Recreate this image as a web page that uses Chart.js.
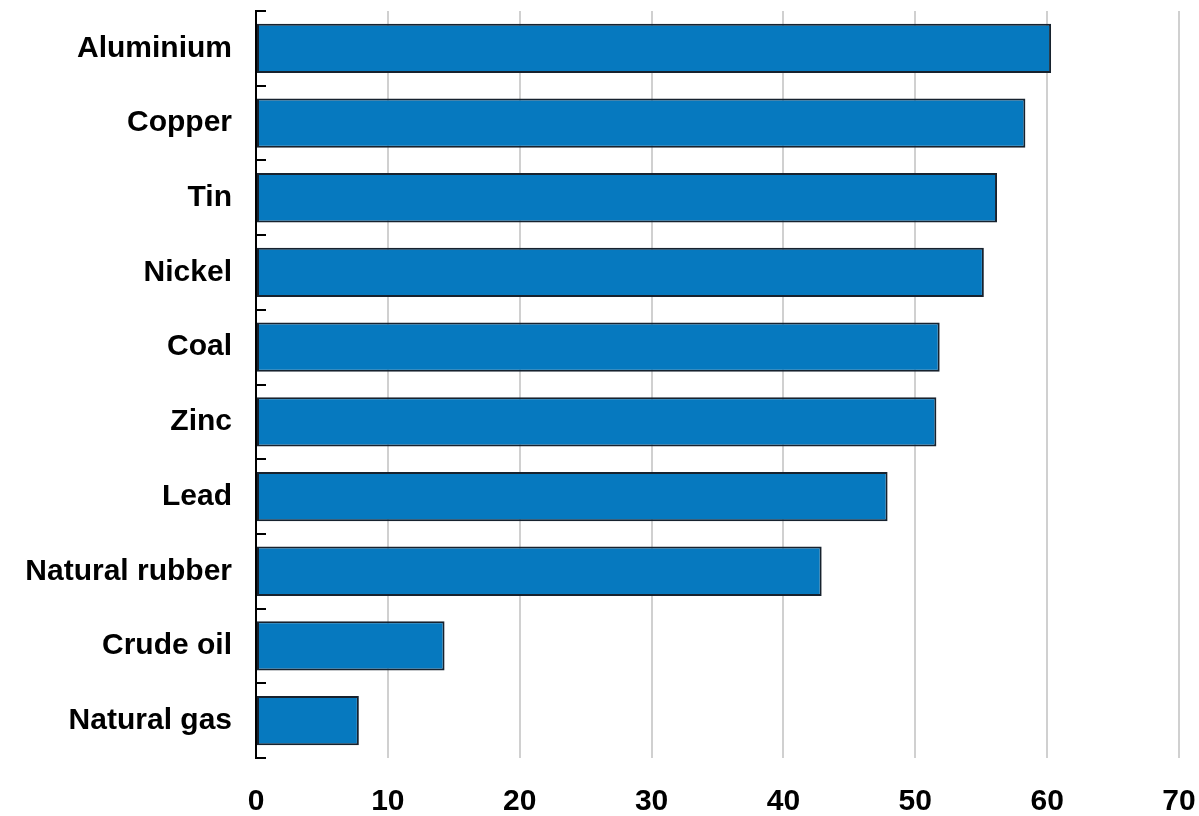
<!DOCTYPE html>
<html>
<head>
<meta charset="utf-8">
<script src="https://cdn.jsdelivr.net/npm/chart.js@4/dist/chart.umd.min.js"></script>
<style>
  html, body { margin: 0; padding: 0; background: #fff; }
  #wrap { width: 1199px; height: 816px; position: relative; }
</style>
</head>
<body>
<div id="wrap"><canvas id="c" width="1199" height="816"></canvas></div>
<script>
const categories = ["Aluminium", "Copper", "Tin", "Nickel", "Coal", "Zinc", "Lead", "Natural rubber", "Crude oil", "Natural gas"];
const values = [60.3, 58.35, 56.2, 55.2, 51.85, 51.6, 47.9, 42.9, 14.3, 7.8];
const xTicks = [0, 10, 20, 30, 40, 50, 60, 70];

const FONT = "'Liberation Sans', Arial, sans-serif";

// Small inward tick marks at category boundaries on the y axis
const innerTicks = {
  id: 'innerTicks',
  afterDraw(chart) {
    const y = chart.scales.y;
    const ctx = chart.ctx;
    const x0 = y.right;
    ctx.save();
    ctx.strokeStyle = '#000';
    ctx.lineWidth = 2;
    ctx.beginPath();
    for (let i = 0; i <= categories.length; i++) {
      const py = Math.round(y.getPixelForValue(i - 0.5));
      ctx.moveTo(x0, py);
      ctx.lineTo(x0 + 10, py);
    }
    ctx.stroke();
    ctx.restore();
  }
};

new Chart(document.getElementById('c'), {
  type: 'bar',
  data: {
    labels: categories,
    datasets: [{
      data: values,
      backgroundColor: '#0679bf',
      borderColor: '#17222e',
      borderWidth: 2,
      borderSkipped: false,
      categoryPercentage: 0.66,
      barPercentage: 1
    }]
  },
  options: {
    indexAxis: 'y',
    responsive: false,
    animation: false,
    layout: { padding: { left: 0, right: 20, top: 11, bottom: 0 } },
    plugins: { legend: { display: false }, tooltip: { enabled: false } },
    scales: {
      x: {
        min: xTicks[0],
        max: xTicks[xTicks.length - 1],
        afterBuildTicks: (s) => { s.ticks = xTicks.map(v => ({ value: v })); },
        afterFit: (s) => { s.height = 58; s.paddingRight = 20; s.paddingLeft = 0; },
        grid: { color: '#d0d0d0', lineWidth: 2, drawTicks: false },
        border: { display: false },
        ticks: {
          padding: 29,
          color: '#000',
          font: { family: FONT, size: 30, weight: 'bold', lineHeight: 1 }
        }
      },
      y: {
        afterFit: (s) => { s.width = 256; s.paddingTop = 0; s.paddingBottom = 0; },
        grid: { drawOnChartArea: false, drawTicks: true, tickLength: 10, color: 'rgba(0,0,0,0)' },
        border: { display: true, color: '#000', width: 2 },
        ticks: {
          padding: 14,
          color: '#000',
          font: { family: FONT, size: 30, weight: 'bold', lineHeight: 0.5 }
        }
      }
    }
  },
  plugins: [innerTicks]
});
</script>
</body>
</html>
